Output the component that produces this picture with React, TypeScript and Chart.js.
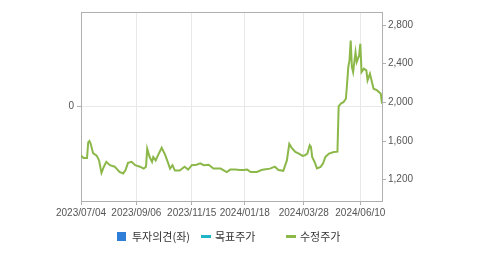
import React, { useEffect, useRef } from "react";
import { Chart, registerables } from "chart.js";

Chart.register(...registerables);

// trading-day index (from 2023/07/04) and adjusted close (수정주가)
const dayIndex = [
  0, 2, 5, 6, 7, 8, 10, 13, 15, 17, 19, 21, 24, 28, 32, 35, 37, 39, 42, 45,
  49, 52, 54, 55, 57, 59, 60, 62, 64, 67, 70, 72, 74, 76, 78, 82, 86, 89, 92, 96,
  99, 102, 106, 110, 116, 121, 124, 128, 132, 135, 138, 141, 146, 150, 152, 157, 161, 164, 168, 171,
  173, 175, 178, 181, 184, 186, 188, 190, 191, 192, 194, 196, 199, 201, 203, 206, 210, 213, 214, 216,
  218, 220, 221, 222, 223, 224, 225, 226, 228, 229, 231, 232, 233, 235, 237, 238, 240, 241, 243, 246,
  249, 250,
];
const adjustedPrice = [
  1450, 1425, 1425, 1585, 1600, 1575, 1475, 1450, 1400, 1270, 1335, 1385, 1350, 1335, 1280, 1265, 1300, 1375, 1385, 1350,
  1335, 1315, 1335, 1520, 1435, 1385, 1435, 1400, 1455, 1530, 1455, 1385, 1315, 1350, 1295, 1295, 1335, 1305, 1350, 1355,
  1370, 1350, 1355, 1315, 1315, 1280, 1305, 1305, 1300, 1300, 1305, 1280, 1280, 1300, 1305, 1315, 1335, 1300, 1292, 1400,
  1570, 1530, 1487, 1470, 1446, 1453, 1470, 1556, 1539, 1436, 1384, 1316, 1333, 1367, 1436, 1470, 1487, 1490, 1960, 1990,
  2003, 2038, 2193, 2365, 2434, 2640, 2365, 2313, 2519, 2417, 2486, 2606, 2313, 2348, 2331, 2227, 2296, 2245, 2141, 2124,
  2090, 1986,
];
const opinionValues: number[] = [];
const targetPrice: number[] = [];

const tickDays = [0, 46, 92, 136, 185, 232];
const tickLabels = ["2023/07/04", "2023/09/06", "2023/11/15", "2024/01/18", "2024/03/28", "2024/06/10"];
const priceTicks = [1200, 1600, 2000, 2400, 2800];
const opinionTicks = [0];
const legendNames = ["투자의견(좌)", "목표주가", "수정주가"];
const legendColors = ["#2f7ed8", "#1fb5c9", "#8cb84a"];
const legendKinds = ["box", "line", "line"];

const AXIS = "#b0b0b0";
const GRID = "#e8e8e8";
const TICK_TEXT = "#555555";

export default function App() {
  const ref = useRef<HTMLCanvasElement | null>(null);

  useEffect(() => {
    document.body.style.margin = "0";
    const canvas = ref.current;
    if (!canvas) return;

    const framePlugin = {
      id: "frame",
      afterDraw(chart: any) {
        const { ctx, chartArea } = chart;
        ctx.save();
        ctx.strokeStyle = AXIS;
        ctx.lineWidth = 1;
        ctx.beginPath();
        ctx.moveTo(chartArea.left, chartArea.top + 0.5);
        ctx.lineTo(chartArea.right, chartArea.top + 0.5);
        ctx.stroke();
        ctx.restore();
      },
    };

    const tickFont = { family: "'Liberation Sans', Arial, sans-serif", size: 10 };

    const chart = new Chart(canvas, {
      type: "line",
      data: {
        datasets: [
          {
            type: "bar",
            label: legendNames[0],
            data: opinionValues.map((v, i) => ({ x: dayIndex[i], y: v })),
            backgroundColor: legendColors[0],
            yAxisID: "y0",
          } as any,
          {
            label: legendNames[1],
            data: targetPrice.map((v, i) => ({ x: dayIndex[i], y: v })),
            borderColor: legendColors[1],
            borderWidth: 2,
            pointRadius: 0,
            yAxisID: "y",
          },
          {
            label: legendNames[2],
            data: adjustedPrice.map((v, i) => ({ x: dayIndex[i], y: v })),
            borderColor: legendColors[2],
            borderWidth: 2,
            pointRadius: 0,
            tension: 0,
            yAxisID: "y",
          },
        ],
      },
      options: {
        responsive: false,
        animation: false,
        layout: { padding: { top: 12, left: 0, right: 0, bottom: 0 } },
        plugins: {
          legend: { display: false },
          tooltip: { enabled: false },
        },
        scales: {
          x: {
            type: "linear",
            offset: false,
            min: dayIndex[0],
            max: dayIndex[dayIndex.length - 1],
            afterBuildTicks: (scale: any) => {
              scale.ticks = tickDays.map((v) => ({ value: v }));
            },
            afterFit: (scale: any) => {
              scale.height = 54;
            },
            ticks: {
              autoSkip: false,
              maxRotation: 0,
              minRotation: 0,
              padding: 2,
              color: TICK_TEXT,
              font: tickFont,
              callback: (value: any) => {
                const i = tickDays.indexOf(Number(value));
                return i >= 0 ? tickLabels[i] : "";
              },
            },
            grid: { offset: false, color: GRID, tickColor: AXIS, tickLength: 4 },
            border: { color: AXIS },
          },
          y0: {
            type: "linear",
            position: "left",
            min: -1,
            max: 1,
            afterBuildTicks: (scale: any) => {
              scale.ticks = opinionTicks.map((v) => ({ value: v }));
            },
            afterFit: (scale: any) => {
              scale.width = 81;
            },
            ticks: { color: TICK_TEXT, font: tickFont, padding: 3 },
            grid: { color: GRID, tickColor: AXIS, tickLength: 4 },
            border: { color: AXIS },
          },
          y: {
            type: "linear",
            position: "right",
            min: 980,
            max: 2935,
            afterBuildTicks: (scale: any) => {
              scale.ticks = priceTicks.map((v) => ({ value: v }));
            },
            afterFit: (scale: any) => {
              scale.width = 97;
            },
            ticks: {
              color: TICK_TEXT,
              font: tickFont,
              padding: 2,
              callback: (value: any) => Number(value).toLocaleString("en-US"),
            },
            grid: { drawOnChartArea: false, tickColor: AXIS, tickLength: 4 },
            border: { color: AXIS },
          },
        },
      },
      plugins: [framePlugin],
    });

    return () => chart.destroy();
  }, []);

  const legendLeft = [117, 201, 286];

  return (
    <div style={{ position: "relative", width: 479, height: 255, background: "#ffffff" }}>
      <canvas ref={ref} width={479} height={255} style={{ display: "block" }} />
      {legendNames.map((name, i) => (
        <div
          key={name}
          style={{
            position: "absolute",
            left: legendLeft[i],
            top: 228,
            height: 16,
            display: "flex",
            alignItems: "center",
            fontFamily: "'Noto Sans CJK KR', 'Noto Sans', sans-serif",
            fontSize: 11,
            color: "#333333",
            whiteSpace: "nowrap",
          }}
        >
          {legendKinds[i] === "box" ? (
            <span style={{ display: "inline-block", width: 9, height: 9, background: legendColors[i], marginRight: 6 }} />
          ) : (
            <span style={{ display: "inline-block", width: 10, height: 3, background: legendColors[i], marginRight: 4 }} />
          )}
          <span>{name}</span>
        </div>
      ))}
    </div>
  );
}
